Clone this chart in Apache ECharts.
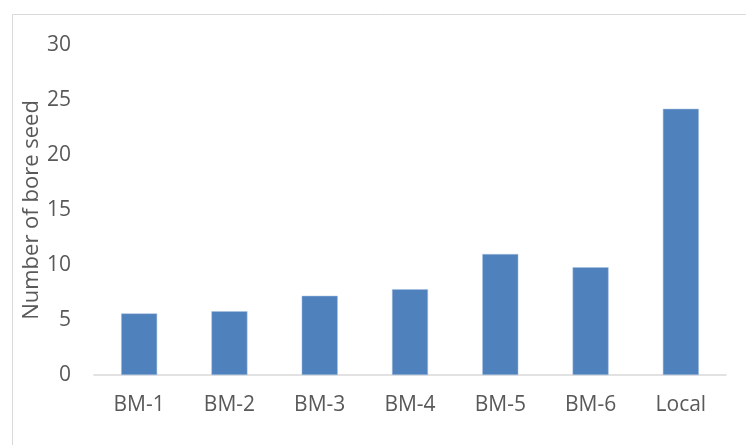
<!DOCTYPE html>
<html><head><meta charset="utf-8">
<script src="https://cdn.jsdelivr.net/npm/echarts@6/dist/echarts.min.js"></script>
<style>html,body{margin:0;padding:0;background:#fff}#c{width:746px;height:445px;position:relative}</style>
</head><body><div id="c"></div>
<script>
const categories = ["BM-1","BM-2","BM-3","BM-4","BM-5","BM-6","Local"];
const values = [5.6, 5.8, 7.2, 7.8, 11.0, 9.8, 24.2];
const yAxisName = "Number of bore seed";

const chart = echarts.init(document.getElementById('c'), null, {renderer:'canvas'});
chart.setOption({
  backgroundColor:'#fff',
  animation:false,
  graphic:[{type:'rect',shape:{x:12.5,y:14.5,width:800,height:500},style:{fill:'none',stroke:'#d9d9d9',lineWidth:1},silent:true,z:-1}],
  grid:{left:94,right:20,top:45,bottom:70,containLabel:false},
  xAxis:{type:'category',data:categories,
    axisLine:{lineStyle:{color:'#d9d9d9',width:1.5}},axisTick:{show:false},
    axisLabel:{color:'#595959',fontSize:21,fontFamily:'Open Sans',margin:20}},
  yAxis:{type:'value',min:0,max:30,interval:5,
    name:yAxisName,nameLocation:'middle',nameGap:51,nameRotate:90,nameMoveOverlap:false,
    nameTextStyle:{color:'#595959',fontSize:22,fontFamily:'Open Sans',verticalAlign:'bottom'},
    axisLine:{show:false},axisTick:{show:false},splitLine:{show:false},
    axisLabel:{color:'#595959',fontSize:21,fontFamily:'Open Sans',margin:23}},
  series:[{type:'bar',data:values,barWidth:36,
    itemStyle:{color:'#4f81bd',borderColor:'#a9c0e0',borderWidth:0.5}}]
});
</script></body></html>
